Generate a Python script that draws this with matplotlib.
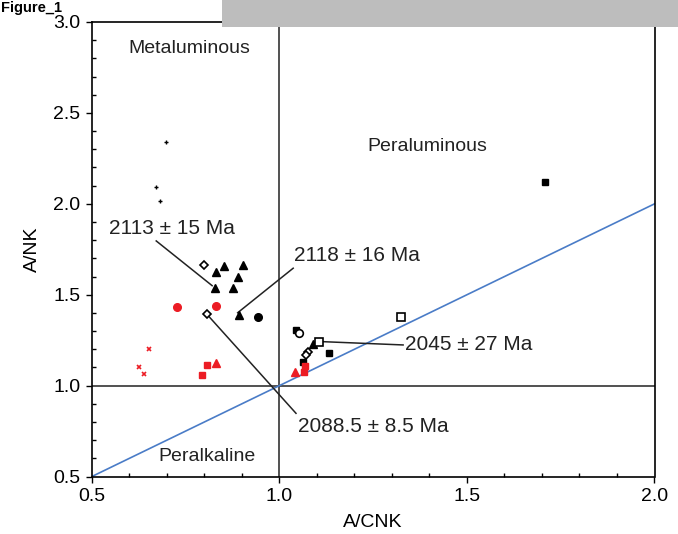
import matplotlib
matplotlib.use('Agg')
import matplotlib.pyplot as plt
import matplotlib.patches as patches
from matplotlib.ticker import MultipleLocator

plt.rcParams['font.family'] = ['Liberation Sans', 'DejaVu Sans']

# sample groups (A/CNK, A/NK)
blk_plus_x = [0.697, 0.671, 0.682]
blk_plus_y = [2.342, 2.094, 2.014]
blk_tri_x = [0.853, 0.9025, 0.831, 0.891, 0.829, 0.877, 0.893, 1.091]
blk_tri_y = [1.660, 1.661, 1.624, 1.599, 1.536, 1.536, 1.389, 1.228]
opn_dia_x = [0.800, 0.8065, 1.077, 1.070]
opn_dia_y = [1.661, 1.394, 1.187, 1.169]
blk_circ_x = [0.942]
blk_circ_y = [1.376]
opn_circ_x = [1.053]
opn_circ_y = [1.291]
blk_sq_x = [1.044, 1.133, 1.064, 1.707]
blk_sq_y = [1.306, 1.181, 1.129, 2.119]
opn_sq_x = [1.107, 1.324]
opn_sq_y = [1.239, 1.379]
red_circ_x = [0.728, 0.8305]
red_circ_y = [1.434, 1.438]
red_x_x = [0.654, 0.627, 0.640]
red_x_y = [1.202, 1.104, 1.063]
red_sq_x = [0.8065, 0.793, 1.0685, 1.0666]
red_sq_y = [1.112, 1.057, 1.108, 1.077]
red_tri_x = [0.831, 1.042]
red_tri_y = [1.123, 1.074]

RED = '#EC1C24'

fig = plt.figure(figsize=(6.78, 5.34), dpi=100)
fig.patch.set_facecolor('white')
# grey banner at the top
fig.patches.append(patches.Rectangle((222 / 678, 1 - 27 / 534), 1, 27 / 534,
                                     transform=fig.transFigure, facecolor='#BDBDBD',
                                     edgecolor='none', zorder=0))
fig.text(0.002, 1 - 1 / 534, 'Figure_1', fontsize=10.5, fontweight='bold', va='top')

ax = fig.add_axes([91.7 / 678, 57.4 / 534, (654.5 - 91.7) / 678, (476.6 - 22) / 534])
ax.patch.set_alpha(0)
ax.set_xlim(0.5, 2.0)
ax.set_ylim(0.5, 3.0)

# boundaries
ax.axvline(1.0, color='#333333', lw=1.2, zorder=1)
ax.axhline(1.0, color='#333333', lw=1.2, zorder=1)
ax.plot([0.5, 2.0], [0.5, 2.0], color='#4A7CC7', lw=1.2, zorder=1)

ms = 5.5
ax.plot(blk_plus_x, blk_plus_y, '+', color='black', ms=3.5, mew=1.0, ls='none')
ax.plot(blk_tri_x, blk_tri_y, '^', color='black', ms=ms, ls='none', zorder=3)
ax.plot(blk_circ_x, blk_circ_y, 'o', color='black', ms=ms, ls='none', zorder=3)
ax.plot(blk_sq_x, blk_sq_y, 's', color='black', ms=5, ls='none', zorder=3)
ax.plot(opn_circ_x, opn_circ_y, 'o', mfc='white', mec='black', mew=1.2, ms=ms, ls='none', zorder=4)
ax.plot(opn_dia_x, opn_dia_y, 'D', mfc='white', mec='black', mew=1.2, ms=4.5, ls='none', zorder=4)
ax.plot(opn_sq_x, opn_sq_y, 's', mfc='white', mec='black', mew=1.2, ms=5.5, ls='none', zorder=4)
ax.plot(red_circ_x, red_circ_y, 'o', color=RED, ms=ms, ls='none', zorder=3)
ax.plot(red_x_x, red_x_y, 'x', color=RED, ms=3.5, mew=1.2, ls='none', zorder=3)
ax.plot(red_sq_x, red_sq_y, 's', color=RED, ms=5, ls='none', zorder=3)
ax.plot(red_tri_x, red_tri_y, '^', color=RED, ms=ms, ls='none', zorder=3)

# field names
fs = 14
ax.text(0.759, 2.857, 'Metaluminous', fontsize=fs, ha='center', va='center', color='#222222')
ax.text(1.394, 2.318, 'Peraluminous', fontsize=fs, ha='center', va='center', color='#222222')
ax.text(0.807, 0.613, 'Peralkaline', fontsize=fs, ha='center', va='center', color='#222222')

# age labels with leader lines
afs = 15
ann = [
    ('2113 ± 15 Ma', (0.714, 1.862), (0.672, 1.796), (0.821, 1.550)),
    ('2118 ± 16 Ma', (1.208, 1.718), (1.037, 1.646), (0.889, 1.401)),
    ('2045 ± 27 Ma', (1.5056, 1.224), (1.330, 1.224), (1.1165, 1.242)),
    ('2088.5 ± 8.5 Ma', (1.2505, 0.775), (1.0445, 0.848), (0.8065, 1.394)),
]
for txt, pos, p0, p1 in ann:
    ax.text(pos[0], pos[1], txt, fontsize=afs, ha='center', va='center', color='#222222')
    ax.plot([p0[0], p1[0]], [p0[1], p1[1]], color='#222222', lw=1.1, zorder=2)

ax.xaxis.set_major_locator(MultipleLocator(0.5))
ax.xaxis.set_minor_locator(MultipleLocator(0.1))
ax.yaxis.set_major_locator(MultipleLocator(0.5))
ax.yaxis.set_minor_locator(MultipleLocator(0.1))
ax.xaxis.set_major_formatter(plt.FormatStrFormatter('%.1f'))
ax.yaxis.set_major_formatter(plt.FormatStrFormatter('%.1f'))
ax.tick_params(which='major', direction='out', length=4, width=1.0, labelsize=14, pad=4)
ax.tick_params(which='minor', direction='in', length=3, width=1.0)
for s in ax.spines.values():
    s.set_linewidth(1.2)

ax.set_xlabel('A/CNK', fontsize=14, labelpad=7)
ax.set_ylabel('A/NK', fontsize=14, labelpad=9)

fig.savefig('out.png', dpi=100)
